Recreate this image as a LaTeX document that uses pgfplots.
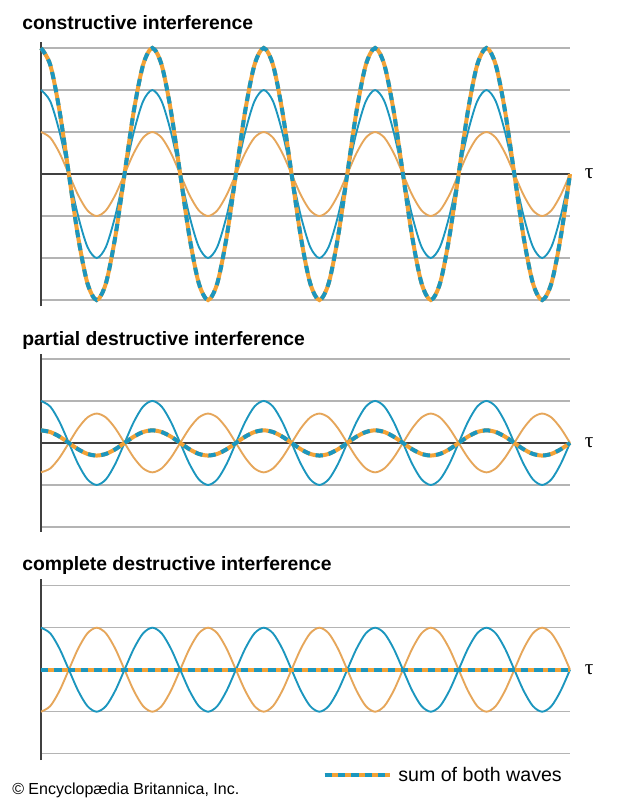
\documentclass[border=0pt]{standalone}
\usepackage{fontspec}
\setmainfont{Liberation Sans}
\newfontfamily\seriffont{Liberation Serif}
\usepackage{pgfplots}
\usepackage{pgfplotstable}
\pgfplotsset{compat=1.18}
\definecolor{wblue}{HTML}{1B96BE}
\definecolor{worange}{HTML}{F3A236}
\definecolor{wtan}{HTML}{E6A65A}
\definecolor{gridgray}{HTML}{B4B4B4}
\definecolor{axisdark}{HTML}{404040}

% phase in degrees; c = cos, cc = 2cos, ccc = 3cos, m = -0.7cos, p = 0.3cos, n = -cos
\pgfplotstableread{
x c cc ccc m p n
0 1 2 3 -0.7 0.3 -1
30 0.866 1.732 2.598 -0.606 0.26 -0.866
60 0.5 1 1.5 -0.35 0.15 -0.5
90 0 0 0 0 0 0
120 -0.5 -1 -1.5 0.35 -0.15 0.5
150 -0.866 -1.732 -2.598 0.606 -0.26 0.866
180 -1 -2 -3 0.7 -0.3 1
210 -0.866 -1.732 -2.598 0.606 -0.26 0.866
240 -0.5 -1 -1.5 0.35 -0.15 0.5
270 0 0 0 0 0 0
300 0.5 1 1.5 -0.35 0.15 -0.5
330 0.866 1.732 2.598 -0.606 0.26 -0.866
360 1 2 3 -0.7 0.3 -1
390 0.866 1.732 2.598 -0.606 0.26 -0.866
420 0.5 1 1.5 -0.35 0.15 -0.5
450 0 0 0 0 0 0
480 -0.5 -1 -1.5 0.35 -0.15 0.5
510 -0.866 -1.732 -2.598 0.606 -0.26 0.866
540 -1 -2 -3 0.7 -0.3 1
570 -0.866 -1.732 -2.598 0.606 -0.26 0.866
600 -0.5 -1 -1.5 0.35 -0.15 0.5
630 0 0 0 0 0 0
660 0.5 1 1.5 -0.35 0.15 -0.5
690 0.866 1.732 2.598 -0.606 0.26 -0.866
720 1 2 3 -0.7 0.3 -1
750 0.866 1.732 2.598 -0.606 0.26 -0.866
780 0.5 1 1.5 -0.35 0.15 -0.5
810 0 0 0 0 0 0
840 -0.5 -1 -1.5 0.35 -0.15 0.5
870 -0.866 -1.732 -2.598 0.606 -0.26 0.866
900 -1 -2 -3 0.7 -0.3 1
930 -0.866 -1.732 -2.598 0.606 -0.26 0.866
960 -0.5 -1 -1.5 0.35 -0.15 0.5
990 0 0 0 0 0 0
1020 0.5 1 1.5 -0.35 0.15 -0.5
1050 0.866 1.732 2.598 -0.606 0.26 -0.866
1080 1 2 3 -0.7 0.3 -1
1110 0.866 1.732 2.598 -0.606 0.26 -0.866
1140 0.5 1 1.5 -0.35 0.15 -0.5
1170 0 0 0 0 0 0
1200 -0.5 -1 -1.5 0.35 -0.15 0.5
1230 -0.866 -1.732 -2.598 0.606 -0.26 0.866
1260 -1 -2 -3 0.7 -0.3 1
1290 -0.866 -1.732 -2.598 0.606 -0.26 0.866
1320 -0.5 -1 -1.5 0.35 -0.15 0.5
1350 0 0 0 0 0 0
1380 0.5 1 1.5 -0.35 0.15 -0.5
1410 0.866 1.732 2.598 -0.606 0.26 -0.866
1440 1 2 3 -0.7 0.3 -1
1470 0.866 1.732 2.598 -0.606 0.26 -0.866
1500 0.5 1 1.5 -0.35 0.15 -0.5
1530 0 0 0 0 0 0
1560 -0.5 -1 -1.5 0.35 -0.15 0.5
1590 -0.866 -1.732 -2.598 0.606 -0.26 0.866
1620 -1 -2 -3 0.7 -0.3 1
1650 -0.866 -1.732 -2.598 0.606 -0.26 0.866
1680 -0.5 -1 -1.5 0.35 -0.15 0.5
1710 0 0 0 0 0 0
}\waves

\pgfplotsset{
  wave/.style={scale only axis, width=396.75pt, xmin=0, xmax=1710,
    axis x line=none, axis y line=left,
    y axis line style={-, line width=1.8pt, draw=axisdark},
    yticklabels={}, major tick length=0pt, every tick/.style={draw=none},
    ymajorgrids, grid style={line width=1.1pt, draw=gridgray},
    clip=false},
  thinorange/.style={wtan, line width=1.4pt, smooth, no markers, forget plot},
  thinblue/.style={wblue, line width=1.4pt, smooth, no markers, forget plot},
  sumorange/.style={worange, line width=3pt, smooth, no markers, forget plot},
  sumblue/.style={wblue, line width=3pt, smooth, no markers, forget plot, dash pattern=on 5.5pt off 4.5pt},
  zeroline/.style={axisdark, line width=1.4pt, no markers, forget plot},
}
\newcommand{\taulabel}{\node[anchor=west, inner sep=0pt, xshift=11pt] at (axis cs:1710,0) {\seriffont\fontsize{16}{16}\selectfont τ};}

\begin{document}
\begin{tikzpicture}
\path[use as bounding box, fill=white] (0,0) rectangle (463.5pt,599.25pt);

\node[anchor=base west, inner sep=0pt] at (16.5pt,576.75pt) {\bfseries\fontsize{14.5}{17}\selectfont constructive interference};
\node[anchor=base west, inner sep=0pt] at (16.5pt,339.75pt) {\bfseries\fontsize{14.5}{17}\selectfont partial destructive interference};
\node[anchor=base west, inner sep=0pt] at (16.5pt,171pt) {\bfseries\fontsize{14.5}{17}\selectfont complete destructive interference};
\node[anchor=base west, inner sep=0pt] at (9pt,3pt) {\fontsize{12}{14}\selectfont © Encyclopædia Britannica, Inc.};

% top panel
\begin{axis}[wave, at={(30.75pt,369.5pt)}, anchor=south west, height=198.45pt,
  ymin=-3.15, ymax=3.15, ytick={-3,-2,-1,1,2,3}]
\addplot[zeroline] coordinates {(0,0) (1710,0)};
\addplot[thinorange] table[x=x,y=c]{\waves};
\addplot[thinblue] table[x=x,y=cc]{\waves};
\addplot[sumorange] table[x=x,y=ccc]{\waves};
\addplot[sumblue] table[x=x,y=ccc]{\waves};
\taulabel
\end{axis}

% middle panel
\begin{axis}[wave, at={(30.75pt,200.25pt)}, anchor=south west, height=133.56pt,
  ymin=-2.12, ymax=2.12, ytick={-2,-1,1,2}]
\addplot[zeroline] coordinates {(0,0) (1710,0)};
\addplot[thinorange] table[x=x,y=m]{\waves};
\addplot[thinblue] table[x=x,y=c]{\waves};
\addplot[sumorange] table[x=x,y=p]{\waves};
\addplot[sumblue] table[x=x,y=p]{\waves};
\taulabel
\end{axis}

% bottom panel
\begin{axis}[wave, at={(30.75pt,29.25pt)}, anchor=south west, height=135.45pt,
  ymin=-2.15, ymax=2.15, ytick={-2,-1,1,2},
  legend style={draw=none, fill=none, at={(0.532,-0.083)}, anchor=west,
    inner sep=0pt, font=\fontsize{14.7}{16}\selectfont,
    /tikz/every odd column/.append style={column sep=3pt},
    /tikz/every even column/.append style={column sep=0pt}},
  legend cell align=left]
\addplot[zeroline] coordinates {(0,0) (1710,0)};
\addplot[thinorange] table[x=x,y=n]{\waves};
\addplot[thinblue] table[x=x,y=c]{\waves};
\addplot[sumorange] coordinates {(0,0) (1710,0)};
\addplot[sumblue] coordinates {(0,0) (1710,0)};
\taulabel
\addlegendimage{legend image code/.code={
  \draw[worange, line width=3pt] (0pt,0pt) -- (48.75pt,0pt);
  \draw[wblue, line width=3pt, dash pattern=on 5.5pt off 4.5pt] (0pt,0pt) -- (48.75pt,0pt);}}
\addlegendentry{sum of both waves}
\end{axis}
\end{tikzpicture}
\end{document}
